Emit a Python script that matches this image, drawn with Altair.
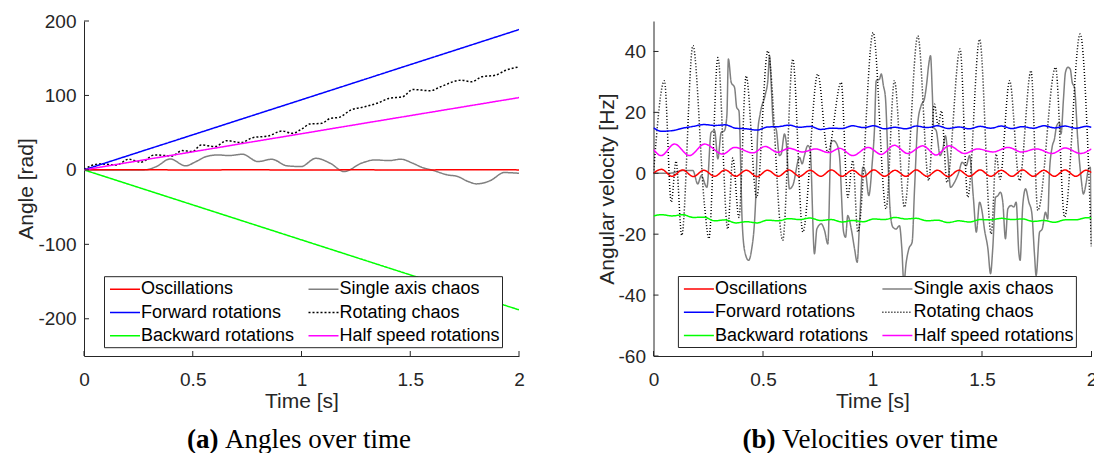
import altair as alt
import pandas as pd

# legend order (column-major fill: column 1 then column 2)
SERIES = ["Oscillations", "Forward rotations", "Backward rotations",
          "Single axis chaos", "Rotating chaos", "Half speed rotations"]
COLORS = ["#ff0000", "#0000ff", "#00ff00", "#808080", "#000000", "#ff00ff"]
DRAW_ORDER = ["Single axis chaos", "Rotating chaos", "Oscillations",
              "Forward rotations", "Backward rotations", "Half speed rotations"]

X_TICKS = [0, 0.5, 1, 1.5, 2]
A_Y_TICKS = [-200, -100, 0, 100, 200]
V_Y_TICKS = [-60, -40, -20, 0, 20, 40]

# ---------------- (a) angles ----------------
a_lin_t = [0, 0.25, 0.5, 0.75, 1.0, 1.25, 1.5, 1.75, 2.0]
a_osc = [0, 0.3, -0.2, 0.2, -0.3, 0.1, -0.2, 0.3, 0.0]
a_fwd = [0, 23.6, 47.1, 70.7, 94.2, 117.8, 141.4, 164.9, 188.5]
a_bwd = [0, -23.5, -47.0, -70.5, -94.0, -117.5, -141.0, -164.5, -188.0]
a_half = [0, 12.2, 24.3, 36.5, 48.6, 60.8, 72.9, 85.0, 97.1]

a_single_t = [0, 0.277, 0.333, 0.396, 0.467, 0.515, 0.562, 0.618, 0.665, 0.728,
              0.800, 0.863, 0.934, 0.998, 1.066, 1.132, 1.196, 1.275, 1.338, 1.401,
              1.457, 1.512, 1.552, 1.607, 1.671, 1.718, 1.766, 1.805, 1.869, 1.932, 2.0]
a_single = [0, 0, 4.5, 14.7, 5.4, 11.2, 17.9, 20.1, 19.2, 21.0,
            11.2, 14.3, 5.4, 4.5, 15.6, 8.9, -2.2, 8.9, 13.4, 12.5,
            14.3, 8.9, 3.6, -0.9, -6.7, -8.9, -15.6, -18.8, -14.3, -3.6, -4.5]

a_rot_t = [0, 0.071, 0.150, 0.206, 0.261, 0.325, 0.404, 0.451, 0.499, 0.538,
           0.602, 0.657, 0.721, 0.776, 0.847, 0.911, 0.958, 1.006, 1.037, 1.093,
           1.132, 1.172, 1.227, 1.291, 1.354, 1.401, 1.465, 1.512, 1.591, 1.639,
           1.734, 1.781, 1.829, 1.892, 1.940, 2.0]
a_rot = [0.9, 8.0, 6.7, 14.3, 10.3, 20.1, 18.8, 25.9, 24.6, 33.5,
         31.3, 39.3, 36.6, 43.3, 45.5, 52.2, 49.1, 55.8, 61.6, 62.5,
         69.2, 70.5, 80.4, 84.8, 90.2, 96.0, 98.2, 108.0, 106.3, 111.6,
         120.5, 118.3, 125.0, 127.2, 133.9, 138.4]

# ---------------- (b) velocities ----------------
v_rip_t = [0, 0.036, 0.085, 0.133, 0.182, 0.230, 0.279, 0.327, 0.376, 0.424,
           0.473, 0.521, 0.570, 0.618, 0.667, 0.715, 0.764, 0.812, 0.861, 0.909,
           0.958, 1.006, 1.055, 1.103, 1.152, 1.200, 1.249, 1.297, 1.346, 1.394,
           1.443, 1.491, 1.540, 1.588, 1.637, 1.685, 1.734, 1.782, 1.831, 1.879,
           1.928, 1.976, 2.0]
v_osc = [0, 1.3, -1.0, 1.1, -1.1, 1.0, -1.0, 1.1, -1.0, 1.0,
         -1.1, 1.0, -1.0, 1.1, -1.0, 1.0, -1.0, 1.1, -1.0, 1.0,
         -1.1, 1.1, -1.0, 1.0, -1.0, 1.1, -1.0, 1.0, -1.1, 1.0,
         -1.0, 1.1, -1.0, 1.0, -1.0, 1.1, -1.0, 1.0, -1.0, 1.1,
         -1.0, 1.0, 0.2]
v_fwd = [14.9, 13.8, 14.0, 14.8, 15.4, 16.0, 15.7, 15.9, 14.8, 14.6,
         14.2, 15.2, 15.3, 15.8, 15.1, 15.4, 14.4, 14.8, 14.7, 15.6,
         15.0, 15.6, 14.6, 15.1, 14.6, 15.5, 15.0, 15.6, 14.7, 15.2,
         14.6, 15.4, 14.8, 15.5, 14.7, 15.3, 14.8, 15.6, 14.9, 15.5,
         14.8, 15.4, 15.1]
v_bwd = [-14.0, -13.6, -14.0, -13.6, -14.5, -14.4, -15.6, -15.3, -16.3, -15.9,
         -16.3, -15.4, -15.6, -14.9, -15.2, -14.7, -15.5, -15.2, -16.0, -15.5,
         -15.9, -15.0, -15.2, -14.5, -15.0, -14.8, -15.6, -15.4, -16.2, -15.6,
         -16.0, -15.2, -15.3, -14.8, -15.2, -15.0, -15.8, -15.5, -16.1, -15.3,
         -15.3, -14.6, -14.7]

v_half_t = [0, 0.035, 0.096, 0.164, 0.233, 0.317, 0.370, 0.454, 0.510, 0.567,
            0.620, 0.680, 0.740, 0.800, 0.850, 0.910, 0.980, 1.040, 1.100, 1.160,
            1.230, 1.290, 1.350, 1.420, 1.480, 1.550, 1.620, 1.680, 1.750, 1.820,
            1.880, 1.950, 2.0]
v_half = [7.8, 5.8, 9.6, 5.8, 9.6, 6.3, 8.5, 6.7, 8.8, 6.9,
          8.2, 7.0, 8.0, 6.8, 8.2, 5.8, 8.5, 6.2, 9.2, 6.5,
          9.0, 6.0, 9.0, 6.5, 8.0, 7.0, 8.5, 7.0, 8.0, 6.5,
          8.3, 6.5, 8.0]

v_single_t = [0, 0.073, 0.134, 0.180, 0.202, 0.218, 0.244, 0.263, 0.279, 0.294,
              0.309, 0.324, 0.335, 0.342, 0.355, 0.370, 0.380, 0.390, 0.405, 0.416,
              0.434, 0.446, 0.466, 0.476, 0.487, 0.511, 0.522, 0.530, 0.537, 0.548,
              0.560, 0.575, 0.583, 0.598, 0.606, 0.621, 0.636, 0.667, 0.679, 0.689,
              0.705, 0.715, 0.735, 0.746, 0.766, 0.781, 0.796, 0.811, 0.822, 0.837,
              0.849, 0.868, 0.877, 0.887, 0.903, 0.918, 0.930, 0.941, 0.956, 0.968,
              0.983, 0.999, 1.009, 1.017, 1.032, 1.040, 1.050, 1.059, 1.070, 1.081,
              1.093, 1.108, 1.123, 1.134, 1.143, 1.154, 1.166, 1.181, 1.192, 1.207,
              1.222, 1.237, 1.248, 1.256, 1.265, 1.273, 1.279, 1.291, 1.309, 1.321,
              1.333, 1.344, 1.356, 1.374, 1.394, 1.409, 1.428, 1.443, 1.461, 1.474,
              1.489, 1.501, 1.511, 1.527, 1.539, 1.549, 1.562, 1.572, 1.584, 1.595,
              1.607, 1.618, 1.633, 1.645, 1.656, 1.668, 1.674, 1.686, 1.699, 1.714,
              1.727, 1.740, 1.747, 1.763, 1.775, 1.790, 1.800, 1.808, 1.820, 1.831,
              1.841, 1.854, 1.861, 1.872, 1.881, 1.892, 1.903, 1.912, 1.922, 1.938,
              1.953, 1.963, 1.976, 1.986, 1.995, 2.0]
v_single = [0, 0, 0.9, 0.9, -3.5, -0.8, -4.6, 13.4, 14.0, 4.7,
            13.4, 14.0, 18.9, 37.5, 29.8, 28.2, 21.6, 20.5, -16.1, -25.4,
            -28.6, -25.9, -9.5, 13.4, 19.5, 26.0, 30.4, 38.6, 29.8, 15.6,
            14.5, 5.8, 6.3, 12.9, 10.2, -5.1, -4.0, 5.2, 3.1, 5.8,
            9.1, 8.0, -26.4, -18.3, -16.6, -18.8, -23.2, 10.2, 10.7, 9.6,
            5.8, -19.3, -21.0, -13.9, -18.3, -24.8, -29.2, -16.1, 2.0, 0.4,
            -7.3, 3.6, 14.5, 30.4, 30.9, 32.6, 28.7, 24.9, 5.8, -12.8,
            -17.7, -18.3, -17.2, -24.8, -36.0, -29.2, -24.8, -22.6, -5.1, 16.7,
            22.2, 24.4, 29.8, 35.3, 38.6, 26.6, 15.1, 14.0, 5.8, 8.0,
            12.3, 5.8, -4.6, -3.0, 0.3, 3.6, 2.5, 5.8, -8.4, -19.3,
            -9.5, -12.8, -18.3, -24.8, -33.0, -24.8, -7.9, -7.4, -6.2, -9.5,
            -21.5, -11.7, -10.6, -11.1, -9.5, -25.9, -28.6, -10.6, -5.1, -9.5,
            -12.8, -27.0, -33.6, -19.3, -18.3, -12.8, -15.0, 0.3, 8.5, 11.3,
            15.6, 16.7, 12.9, 24.4, 33.1, 34.8, 34.2, 29.8, 28.2, 10.2,
            -1.9, -6.8, -3.0, 1.4, 2.0, -24.0]

v_rot_t = [0, 0.050, 0.081, 0.103, 0.129, 0.180, 0.233, 0.253, 0.294, 0.339,
           0.362, 0.390, 0.423, 0.471, 0.522, 0.590, 0.636, 0.682, 0.750, 0.796,
           0.857, 0.887, 0.910, 0.933, 1.003, 1.062, 1.100, 1.146, 1.207, 1.257,
           1.283, 1.300, 1.315, 1.340, 1.400, 1.435, 1.489, 1.542, 1.565, 1.582,
           1.626, 1.671, 1.724, 1.755, 1.836, 1.877, 1.948, 2.0]
v_rot = [0, 30.4, -9.5, 4.0, -20.4, 41.9, -10.6, -21.5, 38.0, -18.3,
         5.0, -14.5, 32.0, -8.0, 40.2, -22.0, 37.5, -19.3, 32.6, 6.9,
         29.8, -7.9, 4.2, -19.3, 46.2, -11.7, 30.4, -11.1, 45.1, -2.4,
         22.7, 15.6, 20.5, -3.0, 40.8, -7.9, 44.0, -19.9, 6.3, -2.0,
         30.4, -2.4, 33.7, -12.2, 34.8, -14.4, 45.7, -24.0]


def frame(parts):
    rows = []
    for name in DRAW_ORDER:
        ts, vs = parts[name]
        for t, v in zip(ts, vs):
            rows.append({"series": name, "t": t, "v": v})
    return pd.DataFrame(rows)


df_a = frame({
    "Oscillations": (a_lin_t, a_osc),
    "Single axis chaos": (a_single_t, a_single),
    "Forward rotations": (a_lin_t, a_fwd),
    "Rotating chaos": (a_rot_t, a_rot),
    "Backward rotations": (a_lin_t, a_bwd),
    "Half speed rotations": (a_lin_t, a_half),
})
df_b = frame({
    "Oscillations": (v_rip_t, v_osc),
    "Single axis chaos": (v_single_t, v_single),
    "Forward rotations": (v_rip_t, v_fwd),
    "Rotating chaos": (v_rot_t, v_rot),
    "Backward rotations": (v_rip_t, v_bwd),
    "Half speed rotations": (v_half_t, v_half),
})

AX = "#262626"
H = 335


def panel(df, W, ydom, yticks, ytitle, dashes, widths, leg_x, leg_y,
          cap_bold, cap_rest, cap_x):
    xs = alt.Scale(domain=[0, 2], nice=False, zero=False)
    ys = alt.Scale(domain=ydom, nice=False, zero=False)
    lines = alt.Chart(df).mark_line(interpolate="monotone", clip=True).encode(
        x=alt.X("t:Q", scale=xs,
                axis=alt.Axis(values=X_TICKS, title="Time [s]",
                              labelExpr="'' + datum.value", labelPadding=14,
                              titlePadding=1)),
        y=alt.Y("v:Q", scale=ys,
                axis=alt.Axis(values=yticks, title=ytitle,
                              labelExpr="'' + datum.value", labelPadding=8,
                              titlePadding=1)),
        color=alt.Color("series:N", scale=alt.Scale(domain=SERIES, range=COLORS),
                        legend=alt.Legend(title=None, orient="none",
                                          legendX=leg_x, legendY=leg_y,
                                          columns=2, columnPadding=9.5,
                                          rowPadding=3.3, padding=2,
                                          fillColor="white", strokeColor=AX,
                                          symbolType="M-1.5,0H1.5", symbolSize=400,
                                          symbolOffset=8, symbolStrokeWidth=1.5,
                                          labelOffset=5, labelFontSize=18,
                                          labelFont="Liberation Sans",
                                          labelColor="#000000", labelLimit=0)),
        strokeDash=alt.StrokeDash("series:N",
                                  scale=alt.Scale(domain=SERIES, range=dashes)),
        strokeWidth=alt.StrokeWidth("series:N",
                                    scale=alt.Scale(domain=SERIES, range=widths),
                                    legend=None),
    )
    xt = alt.Chart(pd.DataFrame({"t": X_TICKS})).mark_rule(color=AX, strokeWidth=1).encode(
        x=alt.X("t:Q", scale=xs), y=alt.value(H), y2=alt.value(H - 5))
    yt = alt.Chart(pd.DataFrame({"v": yticks})).mark_rule(color=AX, strokeWidth=1).encode(
        y=alt.Y("v:Q", scale=ys), x=alt.value(0), x2=alt.value(5))
    one = pd.DataFrame({"k": [0]})
    c1 = alt.Chart(one).mark_text(text=cap_bold, font="Liberation Serif", fontSize=27,
                                  fontWeight="bold", align="right", baseline="alphabetic",
                                  color="#000000").encode(
        x=alt.value(cap_x), y=alt.value(426.5))
    c2 = alt.Chart(one).mark_text(text=cap_rest, font="Liberation Serif", fontSize=27,
                                  align="left", baseline="alphabetic",
                                  color="#000000").encode(
        x=alt.value(cap_x + 6.5), y=alt.value(426.5))
    return alt.layer(lines, xt, yt, c1, c2).properties(width=W, height=H)


# order of dash / width ranges follows SERIES
left = panel(df_a, 435, [-250, 200], A_Y_TICKS, "Angle [rad]",
             [[1, 0], [1, 0], [1, 0], [1, 0], [2, 2], [1, 0]],
             [1.5, 1.5, 1.5, 1.5, 2.2, 1.5], 20, 255.2,
             "(a)", "Angles over time", 134.5)
right = panel(df_b, 438, [-60, 50], V_Y_TICKS, "Angular velocity [Hz]",
              [[1, 0], [1, 0], [1, 0], [1, 0], [1, 2], [1, 0]],
              [1.5, 1.5, 1.5, 1.4, 1.0, 1.5], 24.4, 255,
              "(b)", "Velocities over time", 122)

chart = alt.hconcat(left, right, spacing=134.5, bounds="flush").resolve_scale(
    color="independent", strokeDash="independent", strokeWidth="independent"
).resolve_legend(
    color="independent", strokeDash="independent"
).configure_view(
    stroke=None
).configure_axis(
    grid=False, ticks=False, tickSize=0, domainColor=AX, domainWidth=1,
    labelColor=AX, titleColor=AX, labelFont="Liberation Sans",
    titleFont="Liberation Sans", labelFontSize=19, titleFontSize=21,
    titleFontWeight="normal", labelFlush=False
).properties(
    padding={"left": 15, "top": 12, "right": -3.5, "bottom": 0},
    background="white"
)

chart.save("out.html", embed_options={"renderer": "svg", "actions": False})
